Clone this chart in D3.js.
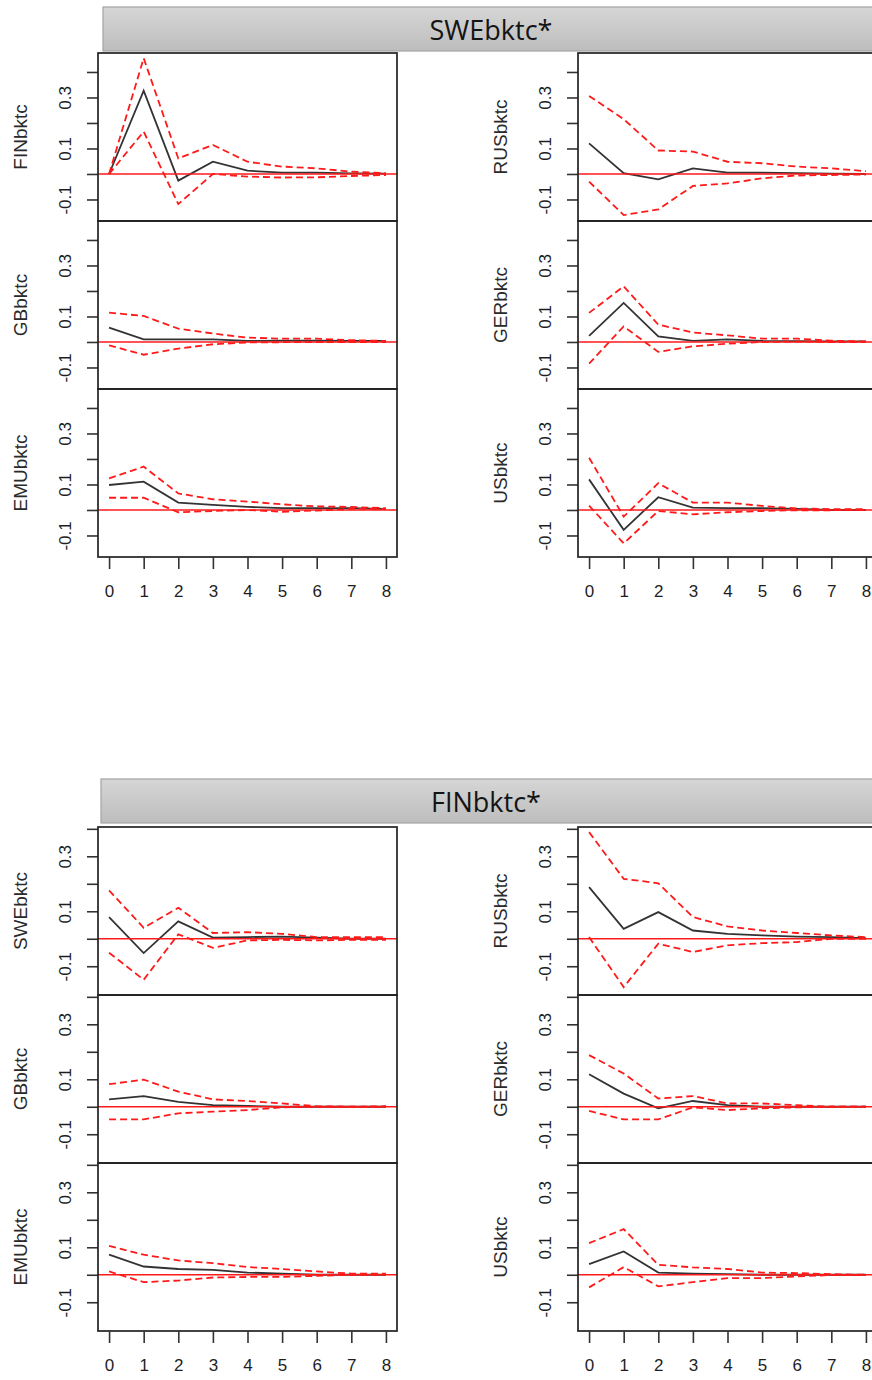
<!DOCTYPE html>
<html>
<head>
<meta charset="utf-8">
<script src="https://cdn.jsdelivr.net/npm/d3@7"></script>
<style>
  body { margin: 0; background: #fff; }
  svg { display: block; }
</style>
</head>
<body>
<svg id="chart" width="872" height="1380"></svg>
<script>
// Impulse-response horizon and axis ticks
const steps = [0, 1, 2, 3, 4, 5, 6, 7, 8];
const yTickValues = [-0.1, 0, 0.1, 0.2, 0.3, 0.4];
const yLabelValues = [-0.1, 0.1, 0.3];

// Shocks (one block each) and their y limits
const shockNames = ["SWEbktc*", "FINbktc*"];
const shockYLimits = [[-0.16, 0.45], [-0.182, 0.384]];

// Responding variables: left column, right column
const leftResponses = [["FINbktc", "GBbktc", "EMUbktc"], ["SWEbktc", "GBbktc", "EMUbktc"]];
const rightResponses = [["RUSbktc", "GERbktc", "USbktc"], ["RUSbktc", "GERbktc", "USbktc"]];

// ---- Shock: SWEbktc* ----
const sweFinIrf   = [0, 0.327, -0.026, 0.048, 0.013, 0.005, 0.005, 0.002, 0.001];
const sweFinUpper = [0, 0.454, 0.061, 0.114, 0.048, 0.029, 0.022, 0.009, 0.003];
const sweFinLower = [0, 0.166, -0.118, 0.000, -0.010, -0.014, -0.013, -0.008, -0.004];

const sweGbIrf    = [0.056, 0.010, 0.010, 0.010, 0.004, 0.005, 0.005, 0.004, 0.004];
const sweGbUpper  = [0.115, 0.102, 0.052, 0.033, 0.017, 0.013, 0.013, 0.007, 0.004];
const sweGbLower  = [-0.013, -0.050, -0.026, -0.009, -0.002, -0.001, 0.000, 0.000, 0.000];

const sweEmuIrf   = [0.098, 0.111, 0.029, 0.020, 0.012, 0.007, 0.007, 0.007, 0.004];
const sweEmuUpper = [0.124, 0.170, 0.065, 0.042, 0.033, 0.022, 0.014, 0.012, 0.007];
const sweEmuLower = [0.048, 0.048, -0.009, -0.004, 0.000, -0.007, -0.002, 0.004, 0.004];

const sweRusIrf   = [0.120, 0.003, -0.021, 0.022, 0.005, 0.005, 0.003, 0.001, 0.000];
const sweRusUpper = [0.306, 0.215, 0.092, 0.088, 0.048, 0.042, 0.029, 0.022, 0.011];
const sweRusLower = [-0.030, -0.161, -0.139, -0.047, -0.037, -0.017, -0.006, -0.004, -0.002];

const sweGerIrf   = [0.024, 0.153, 0.022, 0.004, 0.010, 0.004, 0.003, 0.002, 0.002];
const sweGerUpper = [0.114, 0.218, 0.068, 0.037, 0.026, 0.013, 0.013, 0.005, 0.002];
const sweGerLower = [-0.085, 0.061, -0.039, -0.017, -0.007, 0.000, 0.002, 0.000, 0.000];

const sweUsIrf    = [0.120, -0.078, 0.050, 0.009, 0.007, 0.007, 0.004, 0.000, 0.000];
const sweUsUpper  = [0.205, -0.026, 0.105, 0.029, 0.029, 0.016, 0.006, 0.003, 0.003];
const sweUsLower  = [0.017, -0.131, -0.004, -0.017, -0.009, -0.004, -0.001, -0.001, 0.000];

// ---- Shock: FINbktc* ----
const finSweIrf   = [0.079, -0.052, 0.063, 0.004, 0.006, 0.008, 0.004, 0.000, 0.000];
const finSweUpper = [0.176, 0.040, 0.113, 0.021, 0.024, 0.018, 0.006, 0.006, 0.006];
const finSweLower = [-0.051, -0.149, 0.016, -0.033, -0.006, -0.004, -0.006, -0.004, -0.004];

const finGbIrf    = [0.027, 0.039, 0.018, 0.006, 0.003, 0.000, 0.000, 0.000, 0.000];
const finGbUpper  = [0.082, 0.099, 0.055, 0.027, 0.021, 0.012, 0.002, 0.000, 0.002];
const finGbLower  = [-0.046, -0.046, -0.024, -0.018, -0.012, -0.002, 0.000, 0.000, 0.000];

const finEmuIrf   = [0.073, 0.030, 0.021, 0.018, 0.008, 0.004, 0.000, 0.000, 0.000];
const finEmuUpper = [0.105, 0.073, 0.052, 0.042, 0.028, 0.021, 0.012, 0.004, 0.004];
const finEmuLower = [0.012, -0.027, -0.021, -0.010, -0.008, -0.008, -0.004, 0.000, 0.000];

const finRusIrf   = [0.188, 0.036, 0.097, 0.030, 0.018, 0.012, 0.008, 0.006, 0.002];
const finRusUpper = [0.388, 0.218, 0.202, 0.079, 0.045, 0.030, 0.021, 0.012, 0.006];
const finRusLower = [0.006, -0.176, -0.018, -0.048, -0.024, -0.016, -0.012, 0.000, 0.000];

const finGerIrf   = [0.118, 0.048, -0.006, 0.021, 0.006, 0.000, 0.000, 0.000, 0.000];
const finGerUpper = [0.188, 0.121, 0.030, 0.039, 0.012, 0.012, 0.006, 0.000, 0.000];
const finGerLower = [-0.015, -0.046, -0.046, -0.002, -0.012, -0.006, -0.002, 0.000, 0.000];

const finUsIrf    = [0.039, 0.085, 0.008, 0.004, 0.002, 0.000, 0.000, 0.000, 0.000];
const finUsUpper  = [0.115, 0.166, 0.036, 0.027, 0.021, 0.008, 0.006, 0.002, 0.000];
const finUsLower  = [-0.046, 0.028, -0.042, -0.027, -0.012, -0.012, -0.006, -0.001, -0.001];

// Panel series per shock: [column][row] -> [irf, upper, lower]
const panelSeries = [
  [
    [[sweFinIrf, sweFinUpper, sweFinLower], [sweGbIrf, sweGbUpper, sweGbLower], [sweEmuIrf, sweEmuUpper, sweEmuLower]],
    [[sweRusIrf, sweRusUpper, sweRusLower], [sweGerIrf, sweGerUpper, sweGerLower], [sweUsIrf, sweUsUpper, sweUsLower]]
  ],
  [
    [[finSweIrf, finSweUpper, finSweLower], [finGbIrf, finGbUpper, finGbLower], [finEmuIrf, finEmuUpper, finEmuLower]],
    [[finRusIrf, finRusUpper, finRusLower], [finGerIrf, finGerUpper, finGerLower], [finUsIrf, finUsUpper, finUsLower]]
  ]
];

// ---- Layout ----
const blockTop = [53, 827];
const headerTop = [7, 779];
const headerH = 44;
const headerLeft = [103, 101];
const titleX = [491, 486];
const colLeft = [98, 578];
const panelW = 299;
const panelH = 168;

const svg = d3.select("#chart");
const defs = svg.append("defs");
const grad = defs.append("linearGradient")
  .attr("id", "hdrGrad").attr("x1", 0).attr("y1", 0).attr("x2", 0).attr("y2", 1);
grad.append("stop").attr("offset", "0%").attr("stop-color", "#d6d6d6");
grad.append("stop").attr("offset", "100%").attr("stop-color", "#bdbdbd");

const pad = (lo, hi) => { const r = hi - lo; return [lo - 0.04 * r, hi + 0.04 * r]; };
const axisFont = "'Liberation Sans', Arial, sans-serif";

shockNames.forEach((shock, b) => {
  // strip header
  svg.append("rect")
    .attr("x", headerLeft[b]).attr("y", headerTop[b])
    .attr("width", 872 - headerLeft[b] + 10).attr("height", headerH)
    .attr("fill", "url(#hdrGrad)")
    .attr("stroke", "#a3a3a3").attr("stroke-width", 1.2);
  svg.append("text")
    .attr("x", titleX[b]).attr("y", headerTop[b] + 33)
    .attr("text-anchor", "middle")
    .attr("font-family", "'Open Sans', 'Noto Sans', sans-serif")
    .attr("font-size", 27)
    .attr("fill", "#141414")
    .text(shock);

  const yDomain = pad(shockYLimits[b][0], shockYLimits[b][1]);

  [leftResponses[b], rightResponses[b]].forEach((names, c) => {
    const x0 = colLeft[c];
    const x = d3.scaleLinear().domain(pad(0, 8)).range([x0, x0 + panelW]);

    names.forEach((name, r) => {
      const top = blockTop[b] + r * panelH;
      const y = d3.scaleLinear().domain(yDomain).range([top + panelH, top]);
      const [irf, upper, lower] = panelSeries[b][c][r];
      const g = svg.append("g");

      const clipId = `clip-${b}-${c}-${r}`;
      defs.append("clipPath").attr("id", clipId)
        .append("rect").attr("x", x0).attr("y", top).attr("width", panelW).attr("height", panelH);

      const line = d3.line().x((d, i) => x(steps[i])).y(d => y(d));
      const plot = g.append("g").attr("clip-path", `url(#${clipId})`);

      // point estimate, bootstrap band, zero reference
      plot.append("path").datum(irf)
        .attr("d", line).attr("fill", "none")
        .attr("stroke", "#333").attr("stroke-width", 1.8);
      [upper, lower].forEach(s => {
        plot.append("path").datum(s)
          .attr("d", line).attr("fill", "none")
          .attr("stroke", "#ff1a1a").attr("stroke-width", 1.8)
          .attr("stroke-dasharray", "7,4");
      });
      plot.append("line")
        .attr("x1", x0).attr("x2", x0 + panelW)
        .attr("y1", y(0)).attr("y2", y(0))
        .attr("stroke", "#ff1a1a").attr("stroke-width", 1.6);

      // y axis with rotated labels
      const yAxis = d3.axisLeft(y).tickValues(yTickValues).tickSize(11).tickSizeOuter(0)
        .tickFormat(d => yLabelValues.some(v => Math.abs(v - d) < 1e-9) ? d.toFixed(1) : "");
      const ya = g.append("g").attr("transform", `translate(${x0},0)`).call(yAxis);
      ya.select(".domain").remove();
      ya.selectAll(".tick line").attr("stroke", "#333").attr("stroke-width", 1.6);
      ya.selectAll(".tick text")
        .attr("transform", "rotate(-90)")
        .attr("x", 0).attr("y", -27).attr("dy", 0)
        .attr("text-anchor", "middle")
        .attr("font-family", axisFont)
        .attr("font-size", 17).attr("fill", "#1e1e1e");

      // response name
      g.append("text")
        .attr("transform", `translate(${x0 - 71},${top + panelH / 2}) rotate(-90)`)
        .attr("text-anchor", "middle")
        .attr("font-family", axisFont)
        .attr("font-size", 19).attr("fill", "#2a2a2a")
        .text(name);

      // panel frame
      g.append("rect")
        .attr("x", x0).attr("y", top).attr("width", panelW).attr("height", panelH)
        .attr("fill", "none").attr("stroke", "#222").attr("stroke-width", 1.7);

      // x axis under the last panel
      if (r === names.length - 1) {
        const xAxis = d3.axisBottom(x).tickValues(steps).tickSize(12).tickSizeOuter(0)
          .tickFormat(d3.format("d"));
        const xa = g.append("g").attr("transform", `translate(0,${top + panelH})`).call(xAxis);
        xa.select(".domain").remove();
        xa.selectAll(".tick line").attr("stroke", "#333").attr("stroke-width", 1.6);
        xa.selectAll(".tick text")
          .attr("y", 28).attr("dy", "0.71em")
          .attr("font-family", axisFont)
          .attr("font-size", 17).attr("fill", "#1e1e1e");
      }
    });
  });
});
</script>
</body>
</html>
